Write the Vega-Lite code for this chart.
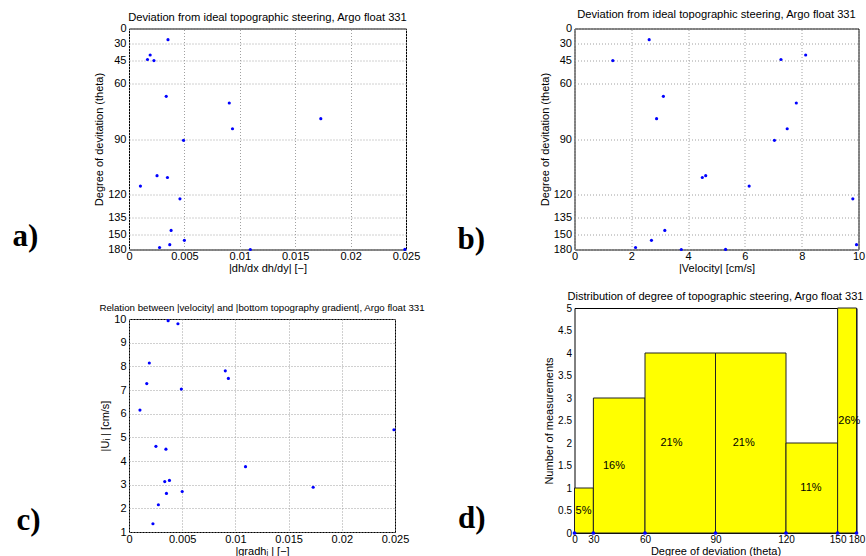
{
  "$schema": "https://vega.github.io/schema/vega-lite/v6.json",
  "background": "white",
  "padding": {"left": 12, "top": 8.5, "right": 0, "bottom": 0},
  "datasets": {
    "pts": [
      {"grad": 0.00352, "vel": 2.63, "theta": 26},
      {"grad": 0.00191, "vel": 8.14, "theta": 40.5},
      {"grad": 0.00167, "vel": 7.27, "theta": 44},
      {"grad": 0.00225, "vel": 1.35, "theta": 44.8},
      {"grad": 0.00336, "vel": 3.13, "theta": 67.3},
      {"grad": 0.00905, "vel": 7.81, "theta": 71},
      {"grad": 0.01731, "vel": 2.89, "theta": 79.4},
      {"grad": 0.00934, "vel": 7.49, "theta": 84.7},
      {"grad": 0.00492, "vel": 7.04, "theta": 90.7},
      {"grad": 0.00253, "vel": 4.62, "theta": 109.4},
      {"grad": 0.00347, "vel": 4.5, "theta": 110.4},
      {"grad": 0.00103, "vel": 6.15, "theta": 115.2},
      {"grad": 0.0046, "vel": 9.8, "theta": 122.8},
      {"grad": 0.0038, "vel": 3.18, "theta": 145.8},
      {"grad": 0.005, "vel": 2.71, "theta": 156.5},
      {"grad": 0.00368, "vel": 9.93, "theta": 163},
      {"grad": 0.00276, "vel": 2.15, "theta": 169},
      {"grad": 0.01095, "vel": 3.76, "theta": 179.5},
      {"grad": 0.0249, "vel": 5.32, "theta": 177.5}
    ],
    "bins": [
      {"lo": 0, "hi": 30, "n": 1, "pct": "5%"},
      {"lo": 30, "hi": 60, "n": 3, "pct": "16%"},
      {"lo": 60, "hi": 90, "n": 4, "pct": "21%"},
      {"lo": 90, "hi": 120, "n": 4, "pct": "21%"},
      {"lo": 120, "hi": 150, "n": 2, "pct": "11%"},
      {"lo": 150, "hi": 180, "n": 5, "pct": "26%"}
    ],
    "edges": [
      {"theta": 0}, {"theta": 30}, {"theta": 60}, {"theta": 90},
      {"theta": 120}, {"theta": 150}, {"theta": 180}
    ]
  },
  "spacing": 31.5,
  "hconcat": [
    {
      "spacing": 27.5,
      "vconcat": [
        {
          "title": {"text": "a)", "orient": "left", "angle": 0, "anchor": "start", "align": "right", "baseline": "alphabetic", "font": "Liberation Serif", "fontSize": 31, "fontWeight": "bold", "color": "#000", "offset": 29, "dy": -28},
          "vconcat": [
            {
              "title": {"text": "Deviation from ideal topographic steering, Argo float 331", "frame": "group", "offset": -1, "fontSize": 11.2},
              "width": 277,
              "height": 221,
              "data": {"name": "pts"},
              "transform": [{"calculate": "(1 - cos(datum.theta * PI / 180)) / 2", "as": "ty"}],
              "mark": {"type": "point", "filled": true, "size": 10, "color": "#0000ff", "opacity": 1},
              "encoding": {
                "x": {"field": "grad", "type": "quantitative", "scale": {"domain": [0, 0.025], "nice": false}, "axis": {"values": [0, 0.005, 0.01, 0.015, 0.02, 0.025], "format": "~g", "title": "|dh/dx dh/dy| [−]"}},
                "y": {"field": "ty", "type": "quantitative", "scale": {"domain": [0, 1], "reverse": true, "nice": false}, "axis": {"values": [0, 0.0669873, 0.1464466, 0.25, 0.5, 0.75, 0.8535534, 0.9330127, 1], "labelExpr": "round(acos(1 - 2 * datum.value) * 180 / PI)", "title": "Degree of devitation (theta)"}}
              }
            }
          ]
        },
        {
          "title": {"text": "c)", "orient": "left", "angle": 0, "anchor": "start", "align": "right", "baseline": "alphabetic", "font": "Liberation Serif", "fontSize": 31, "fontWeight": "bold", "color": "#000", "offset": 34, "dy": -27},
          "vconcat": [
            {
              "title": {"text": "Relation between |velocity| and |bottom topography gradient|, Argo float 331", "frame": "group", "offset": 0, "fontSize": 9.7},
              "width": 266,
              "height": 213,
              "data": {"name": "pts"},
              "mark": {"type": "point", "filled": true, "size": 10, "color": "#0000ff", "opacity": 1},
              "encoding": {
                "x": {"field": "grad", "type": "quantitative", "scale": {"domain": [0, 0.025], "nice": false}, "axis": {"values": [0, 0.005, 0.01, 0.015, 0.02, 0.025], "format": "~g", "title": "|gradhᵢ | [−]"}},
                "y": {"field": "vel", "type": "quantitative", "scale": {"domain": [1, 10], "nice": false, "zero": false}, "axis": {"values": [1, 2, 3, 4, 5, 6, 7, 8, 9, 10], "title": "|Uᵢ | [cm/s]"}}
              }
            }
          ]
        }
      ]
    },
    {
      "spacing": 15.5,
      "vconcat": [
        {
          "title": {"text": "b)", "orient": "left", "angle": 0, "anchor": "start", "align": "right", "baseline": "alphabetic", "font": "Liberation Serif", "fontSize": 31, "fontWeight": "bold", "color": "#000", "offset": 26, "dy": -25.5},
          "vconcat": [
            {
              "title": {"text": "Deviation from ideal topographic steering, Argo float 331", "frame": "group", "offset": 2, "fontSize": 11.2},
              "width": 284,
              "height": 221,
              "data": {"name": "pts"},
              "transform": [{"calculate": "(1 - cos(datum.theta * PI / 180)) / 2", "as": "ty"}],
              "mark": {"type": "point", "filled": true, "size": 10, "color": "#0000ff", "opacity": 1},
              "encoding": {
                "x": {"field": "vel", "type": "quantitative", "scale": {"domain": [0, 10], "nice": false}, "axis": {"values": [0, 2, 4, 6, 8, 10], "title": "|Velocity| [cm/s]"}},
                "y": {"field": "ty", "type": "quantitative", "scale": {"domain": [0, 1], "reverse": true, "nice": false}, "axis": {"values": [0, 0.0669873, 0.1464466, 0.25, 0.5, 0.75, 0.8535534, 0.9330127, 1], "labelExpr": "round(acos(1 - 2 * datum.value) * 180 / PI)", "title": "Degree of devitation (theta)"}}
              }
            }
          ]
        },
        {
          "title": {"text": "d)", "orient": "left", "angle": 0, "anchor": "start", "align": "right", "baseline": "alphabetic", "font": "Liberation Serif", "fontSize": 31, "fontWeight": "bold", "color": "#000", "offset": 30, "dy": -29},
          "vconcat": [
            {
              "title": {"text": "Distribution of degree of topographic steering, Argo float 331", "frame": "group", "offset": 1, "fontSize": 11.1},
              "width": 282,
              "height": 225,
              "layer": [
                {
                  "data": {"name": "bins"},
                  "transform": [
                    {"calculate": "(1 - cos(datum.lo * PI / 180)) / 2", "as": "xl"},
                    {"calculate": "(1 - cos(datum.hi * PI / 180)) / 2", "as": "xh"}
                  ],
                  "mark": {"type": "rect", "color": "#ffff00", "stroke": "#222", "strokeWidth": 1},
                  "encoding": {
                    "x": {"field": "xl", "type": "quantitative", "scale": {"domain": [0, 1], "nice": false}, "axis": {"values": [0, 0.0669873, 0.25, 0.5, 0.75, 0.9330127, 1], "labelExpr": "round(acos(1 - 2 * datum.value) * 180 / PI)", "labelFontSize": 10, "title": "Degree of deviation (theta)", "grid": false}},
                    "x2": {"field": "xh"},
                    "y": {"field": "n", "type": "quantitative", "scale": {"domain": [0, 5], "nice": false}, "axis": {"values": [0, 0.5, 1, 1.5, 2, 2.5, 3, 3.5, 4, 4.5, 5], "labelExpr": "format(datum.value, '~g')", "labelFontSize": 10, "title": "Number of measurements", "grid": false}},
                    "y2": {"datum": 0}
                  }
                },
                {
                  "data": {"name": "bins"},
                  "transform": [
                    {"calculate": "(1 - cos(min(datum.lo + 7, 150.6) * PI / 180)) / 2", "as": "xm"},
                    {"calculate": "datum.n / 2", "as": "ym"}
                  ],
                  "mark": {"type": "text", "font": "Liberation Sans", "fontSize": 11, "color": "#000", "align": "left"},
                  "encoding": {
                    "x": {"field": "xm", "type": "quantitative", "axis": {"values": [0, 0.0669873, 0.25, 0.5, 0.75, 0.9330127, 1], "labelExpr": "round(acos(1 - 2 * datum.value) * 180 / PI)", "labelFontSize": 10, "title": "Degree of deviation (theta)", "grid": false}},
                    "y": {"field": "ym", "type": "quantitative", "axis": {"values": [0, 0.5, 1, 1.5, 2, 2.5, 3, 3.5, 4, 4.5, 5], "labelExpr": "format(datum.value, '~g')", "labelFontSize": 10, "title": "Number of measurements", "grid": false}},
                    "text": {"field": "pct"}
                  }
                },
                {
                  "data": {"name": "edges"},
                  "transform": [
                    {"calculate": "(1 - cos(datum.theta * PI / 180)) / 2", "as": "tx"},
                    {"calculate": "0", "as": "base"}
                  ],
                  "mark": {"type": "point", "filled": true, "size": 14, "color": "#0000ff", "opacity": 1, "clip": false},
                  "encoding": {
                    "x": {"field": "tx", "type": "quantitative", "axis": {"values": [0, 0.0669873, 0.25, 0.5, 0.75, 0.9330127, 1], "labelExpr": "round(acos(1 - 2 * datum.value) * 180 / PI)", "labelFontSize": 10, "title": "Degree of deviation (theta)", "grid": false}},
                    "y": {"field": "base", "type": "quantitative", "axis": {"values": [0, 0.5, 1, 1.5, 2, 2.5, 3, 3.5, 4, 4.5, 5], "labelExpr": "format(datum.value, '~g')", "labelFontSize": 10, "title": "Number of measurements", "grid": false}}
                  }
                }
              ]
            }
          ]
        }
      ]
    }
  ],
  "config": {
    "view": {"stroke": "#000", "strokeWidth": 1},
    "axis": {
      "labelFont": "Liberation Sans", "titleFont": "Liberation Sans",
      "labelFontSize": 11, "titleFontSize": 11, "titleFontWeight": "normal",
      "labelColor": "#000", "titleColor": "#000",
      "domain": false, "ticks": false, "labelPadding": 3, "titlePadding": 3,
      "grid": true, "gridDash": [1, 2], "gridColor": "#a0a0a0", "gridOpacity": 1,
      "labelFlush": false, "labelOverlap": false
    },
    "axisX": {"labelPadding": 1, "titlePadding": 1},
    "title": {"font": "Liberation Sans", "fontSize": 11, "fontWeight": "normal", "color": "#000"}
  }
}
